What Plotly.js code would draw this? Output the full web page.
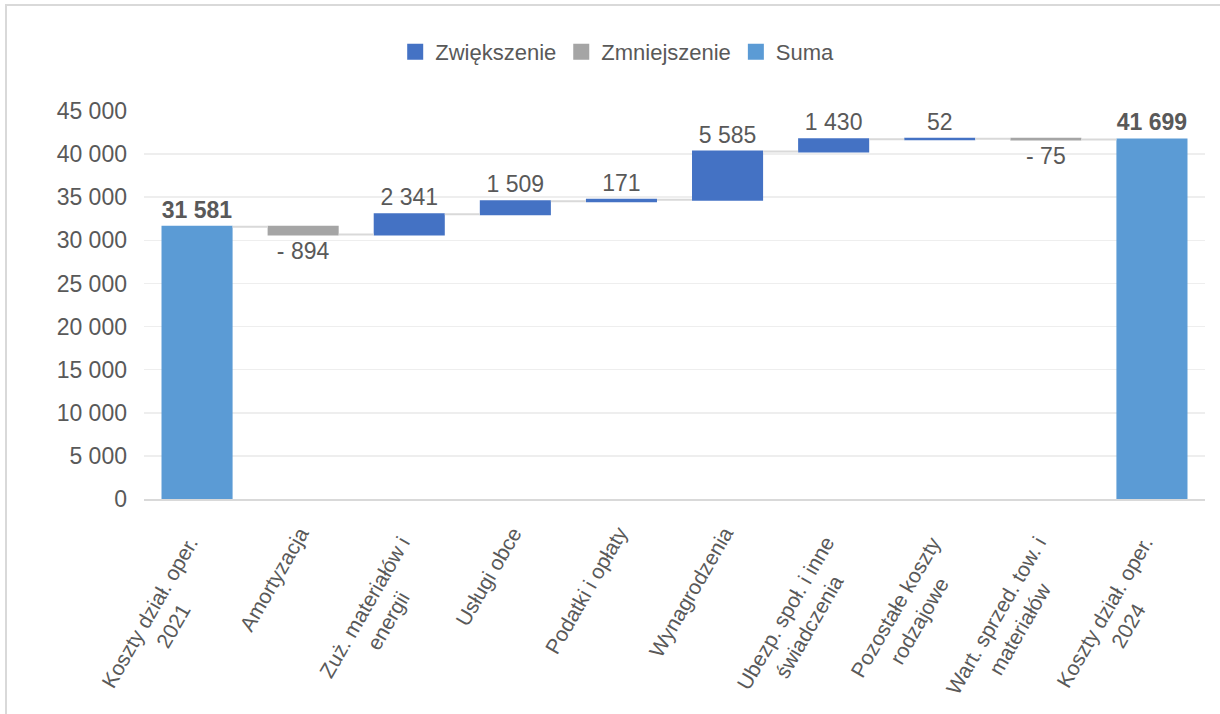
<!DOCTYPE html>
<html>
<head>
<meta charset="utf-8">
<script src="https://cdn.plot.ly/plotly-3.0.1.min.js"></script>
<style>
  html, body { margin: 0; padding: 0; background: #fff; overflow: hidden; }
  #frame { position: absolute; left: 5px; top: 4px; width: 1300px; height: 800px; border: 2px solid #D9D9D9; box-sizing: border-box; pointer-events: none; z-index: 5; }
  #chart { position: absolute; left: 0; top: 0; width: 1220px; height: 714px; }
</style>
</head>
<body>
<div id="chart"></div>
<div id="frame"></div>
<script>
// ---- data ----
const categories = [
  "Koszty dział. oper.<br>2021",
  "Amortyzacja",
  "Zuż. materiałów i<br>energii",
  "Usługi obce",
  "Podatki i opłaty",
  "Wynagrodzenia",
  "Ubezp. społ. i inne<br>świadczenia",
  "Pozostałe koszty<br>rodzajowe",
  "Wart. sprzed. tow. i<br>materiałów",
  "Koszty dział. oper.<br>2024"
];
const values = [31581, -894, 2341, 1509, 171, 5585, 1430, 52, -75, 41699];
const measures = ["absolute", "relative", "relative", "relative", "relative", "relative", "relative", "relative", "relative", "absolute"];
const legendNames = ["Zwiększenie", "Zmniejszenie", "Suma"];
const yTicks = [0, 5000, 10000, 15000, 20000, 25000, 30000, 35000, 40000, 45000];

// ---- styles ----
const cInc = "#4472C4", cDec = "#A5A5A5", cTot = "#5B9BD5", txt = "#595959";
const FONT = "Liberation Sans, Arial, sans-serif";

function fmt(v) {
  const a = Math.abs(v).toString().replace(/\B(?=(\d{3})+(?!\d))/g, " ");
  return v < 0 ? "- " + a : a;
}
const labels = values.map((v, i) => measures[i] === "absolute" ? "<b>" + fmt(v) + "</b>" : fmt(v));

const traces = [{
  type: "waterfall",
  x: categories,
  y: values,
  measure: measures,
  text: labels,
  textinfo: "text",
  textposition: "outside",
  constraintext: "none",
  cliponaxis: false,
  outsidetextfont: { family: FONT, size: 23, color: txt },
  textfont: { family: FONT, size: 23, color: txt },
  increasing: { marker: { color: cInc } },
  decreasing: { marker: { color: cDec } },
  totals: { marker: { color: cTot } },
  connector: { mode: "between", line: { color: "#D9D9D9", width: 2 } },
  showlegend: false,
  hoverinfo: "skip"
}];
[cInc, cDec, cTot].forEach((c, i) => traces.push({
  type: "scatter", mode: "markers", x: [null], y: [null],
  name: legendNames[i],
  marker: { symbol: "square", size: 17, color: c },
  showlegend: true, hoverinfo: "skip"
}));

// category labels: rotated, centred multi-line text
const catAnnotations = categories.map(c => {
  const lines = c.split("<br>").length;
  return {
    x: c, y: 0, xref: "x", yref: "y",
    text: c, showarrow: false,
    textangle: -60, align: "center",
    xanchor: "right", yanchor: "top",
    xshift: lines === 1 ? 13 : 31,
    yshift: lines === 1 ? -21 : -31,
    font: { family: FONT, size: 21, color: txt }
  };
});

const layout = {
  width: 1220, height: 714,
  margin: { l: 144, r: 15, t: 111, b: 215, pad: 0 },
  paper_bgcolor: "#fff", plot_bgcolor: "#fff",
  font: { family: FONT, size: 23, color: txt },
  separators: ", ",
  waterfallgap: 0.33,
  showlegend: true,
  legend: {
    orientation: "h", x: 0.446, xanchor: "center", y: 1.152, yanchor: "middle",
    font: { family: FONT, size: 22, color: txt },
    itemclick: false, traceorder: "normal"
  },
  annotations: catAnnotations,
  xaxis: {
    type: "category",
    range: [-0.5, categories.length - 0.5],
    autorange: false,
    showticklabels: false,
    showline: true, linecolor: "#D9D9D9", linewidth: 2,
    ticks: "", showgrid: false, zeroline: false,
    fixedrange: true
  },
  yaxis: {
    range: [0, 45000],
    autorange: false,
    tickvals: yTicks,
    tickformat: ",d",
    tickfont: { family: FONT, size: 23, color: txt },
    showgrid: true, gridcolor: "#EEEEEE", gridwidth: 1.5,
    zeroline: false, showline: false, ticks: "",
    ticklabelstandoff: 16,
    fixedrange: true
  }
};

Plotly.newPlot("chart", traces, layout, { displayModeBar: false, staticPlot: true });
</script>
</body>
</html>
